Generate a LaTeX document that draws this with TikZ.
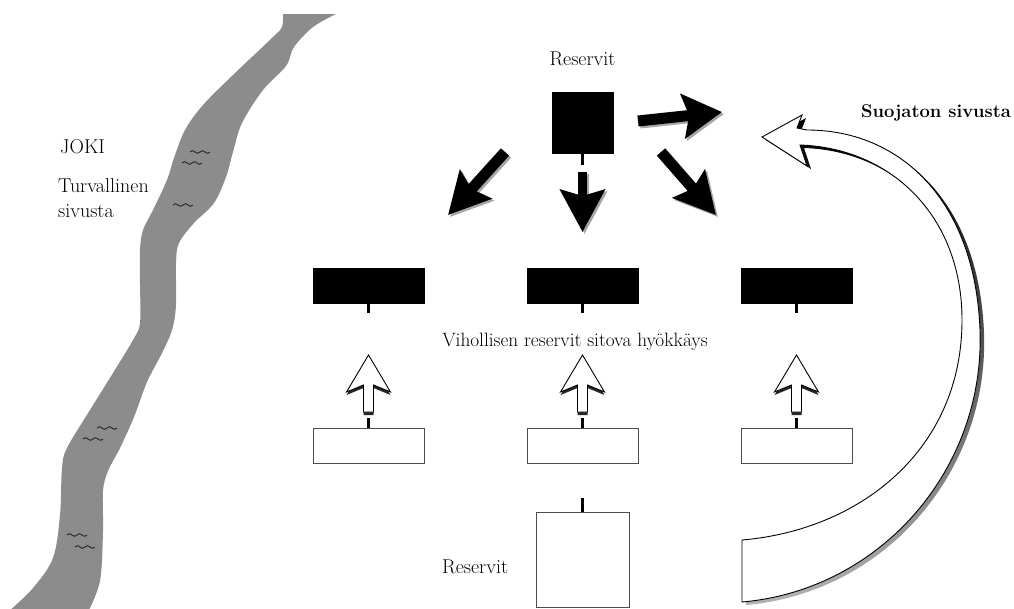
\documentclass[tikz,border=0pt]{standalone}
\usetikzlibrary{arrows.meta}
\newcommand\wavemark[1]{\draw[wavy] (#1) ++(-10,0) sin ++(2.5,-1.3) cos ++(2.5,1.3) sin ++(2.5,1.3) cos ++(2.5,-1.3) sin ++(2.5,-1.3) cos ++(2.5,1.3) sin ++(2.5,1.3) cos ++(2.5,-1.3);}
\newcommand\bigarrowpath[1]{\path[#1] (762,137) -- (802,115) -- (797,128) -- (807,130) .. controls (900,130) and (975,200) .. (980,330) .. controls (985,470) and (880,590) .. (742,602) -- (742,540) .. controls (860,530) and (962,450) .. (962,320) .. controls (962,215) and (890,148) .. (800,145) -- (807,166) -- cycle;}
\begin{document}
\begin{tikzpicture}[x=1pt,y=-1pt,
  river/.style={fill=black!45},
  wavy/.style={draw=black!85, line width=0.9pt},
  blackbox/.style={fill=black, draw=black, inner sep=0pt, minimum width=111pt, minimum height=35pt},
  whitebox/.style={fill=white, draw=black!70, line width=1pt, inner sep=0pt, minimum width=111pt, minimum height=35pt},
  stem/.style={line width=3pt, draw=black},
  lab/.style={inner sep=0pt, font=\fontsize{20}{23}\selectfont},
  blackarrow/.style n args={3}{line width=#1pt, -{Stealth[length=#2pt,width=#3pt,inset=6pt]}},
  outl/.style={fill=white, draw=black, line width=0.9pt, line join=miter},
  uparr/.pic={
    \fill[black!85] (0,3) -- (22,40) -- (5,33) -- (5,60) -- (-5,60) -- (-5,33) -- (-22,40) -- cycle;
    \path[outl] (0,0) -- (22,37) -- (5,30) -- (5,57) -- (-5,57) -- (-5,30) -- (-22,37) -- cycle;
  }
]
\useasboundingbox (0,0) rectangle (1014,608);
\fill[white] (0,0) rectangle (1014,608);

% river
\fill[river] plot[smooth, tension=0.55] coordinates {(283,14) (282,27) (273,37) (233,75) (203,105) (185,130) (174,158) (167,180) (153,210) (143,230) (140,250) (140,283) (140,323) (133,340) (113,373) (90,410) (67,448) (62,468) (60,515) (53,558) (33,588) (8,612)}
 -- plot[smooth, tension=0.55] coordinates {(88,612) (100,581) (103,531) (103,491) (108,471) (120,448) (134,417) (147,382) (162,353) (172,330) (176,305) (176,263) (179,243) (194,223) (214,203) (226,177) (233,152) (242,123) (263,90) (286,66) (294,47) (313,27) (336,14)} -- cycle;
\wavemark{200,152}
\wavemark{192,163}
\wavemark{183,205}
\wavemark{107,428}
\wavemark{93,439}
\wavemark{77,535}
\wavemark{85,547}

% texts
\node[lab, anchor=base west] (joki) at (60,153) {JOKI};
\node[lab, anchor=base west] (turv) at (58,192) {Turvallinen};
\node[lab, anchor=base west] (siv) at (58,217) {sivusta};
\node[lab, anchor=base] (rtxt) at (582.5,65) {Reservit};
\node[lab, anchor=base, font=\fontsize{19.3}{23}\selectfont] (vih) at (575,346) {Vihollisen reservit sitova hyökkäys};
\node[lab, anchor=base west, font=\bfseries\fontsize{18.4}{22}\selectfont] (suo) at (861,117) {Suojaton sivusta};
\node[lab, anchor=base west] (rbtxt) at (442,573) {Reservit};

% top reserve
\node[blackbox, minimum width=61pt, minimum height=61pt] (rtop) at (582.5,122.5) {};
\draw[stem] (rtop.south) -- ++(0,12);

% black arrows
\coordinate (a1s) at (505,152); \coordinate (a1e) at (448,215);
\coordinate (a2s) at (582.5,172); \coordinate (a2e) at (582.5,232);
\coordinate (a3s) at (661,152); \coordinate (a3e) at (716,215);
\coordinate (a4s) at (638,121); \coordinate (a4e) at (722,112);
\draw[blackarrow={11}{41}{42}, draw=black!35] ([shift={(2,2)}]a1s) -- ([shift={(2,2)}]a1e);
\draw[blackarrow={9}{42}{44}, draw=black!35] ([shift={(2,2)}]a2s) -- ([shift={(2,2)}]a2e);
\draw[blackarrow={11}{41}{42}, draw=black!35] ([shift={(2,2)}]a3s) -- ([shift={(2,2)}]a3e);
\draw[blackarrow={11}{39}{44}, draw=black!35] ([shift={(2,2)}]a4s) -- ([shift={(2,2)}]a4e);
\draw[blackarrow={11}{41}{42}, draw=black] (a1s) -- (a1e);
\draw[blackarrow={9}{42}{44}, draw=black] (a2s) -- (a2e);
\draw[blackarrow={11}{41}{42}, draw=black] (a3s) -- (a3e);
\draw[blackarrow={11}{39}{44}, draw=black] (a4s) -- (a4e);

% front line units
\node[blackbox] (b1) at (368.5,285.5) {};
\node[blackbox] (b2) at (582.5,285.5) {};
\node[blackbox] (b3) at (796.5,285.5) {};
\draw[stem] (b1.south) -- ++(0,10);
\draw[stem] (b2.south) -- ++(0,10);
\draw[stem] (b3.south) -- ++(0,10);

% own units
\node[whitebox] (w1) at (368.5,445.5) {};
\node[whitebox] (w2) at (582.5,445.5) {};
\node[whitebox] (w3) at (796.5,445.5) {};
\draw[stem] (w1.north) -- ++(0,-10);
\draw[stem] (w2.north) -- ++(0,-10);
\draw[stem] (w3.north) -- ++(0,-10);
\pic at (368.5,355) {uparr};
\pic at (582.5,355) {uparr};
\pic at (796.5,355) {uparr};

% own reserve
\node[whitebox, minimum width=93pt, minimum height=95pt] (rbot) at (582.5,559.5) {};
\draw[stem] (rbot.north) -- ++(0,-14);

% flanking arrow
\bigarrowpath{top color=black, bottom color=black!30, shift={(4,3)}}
\bigarrowpath{outl}
\end{tikzpicture}
\end{document}
